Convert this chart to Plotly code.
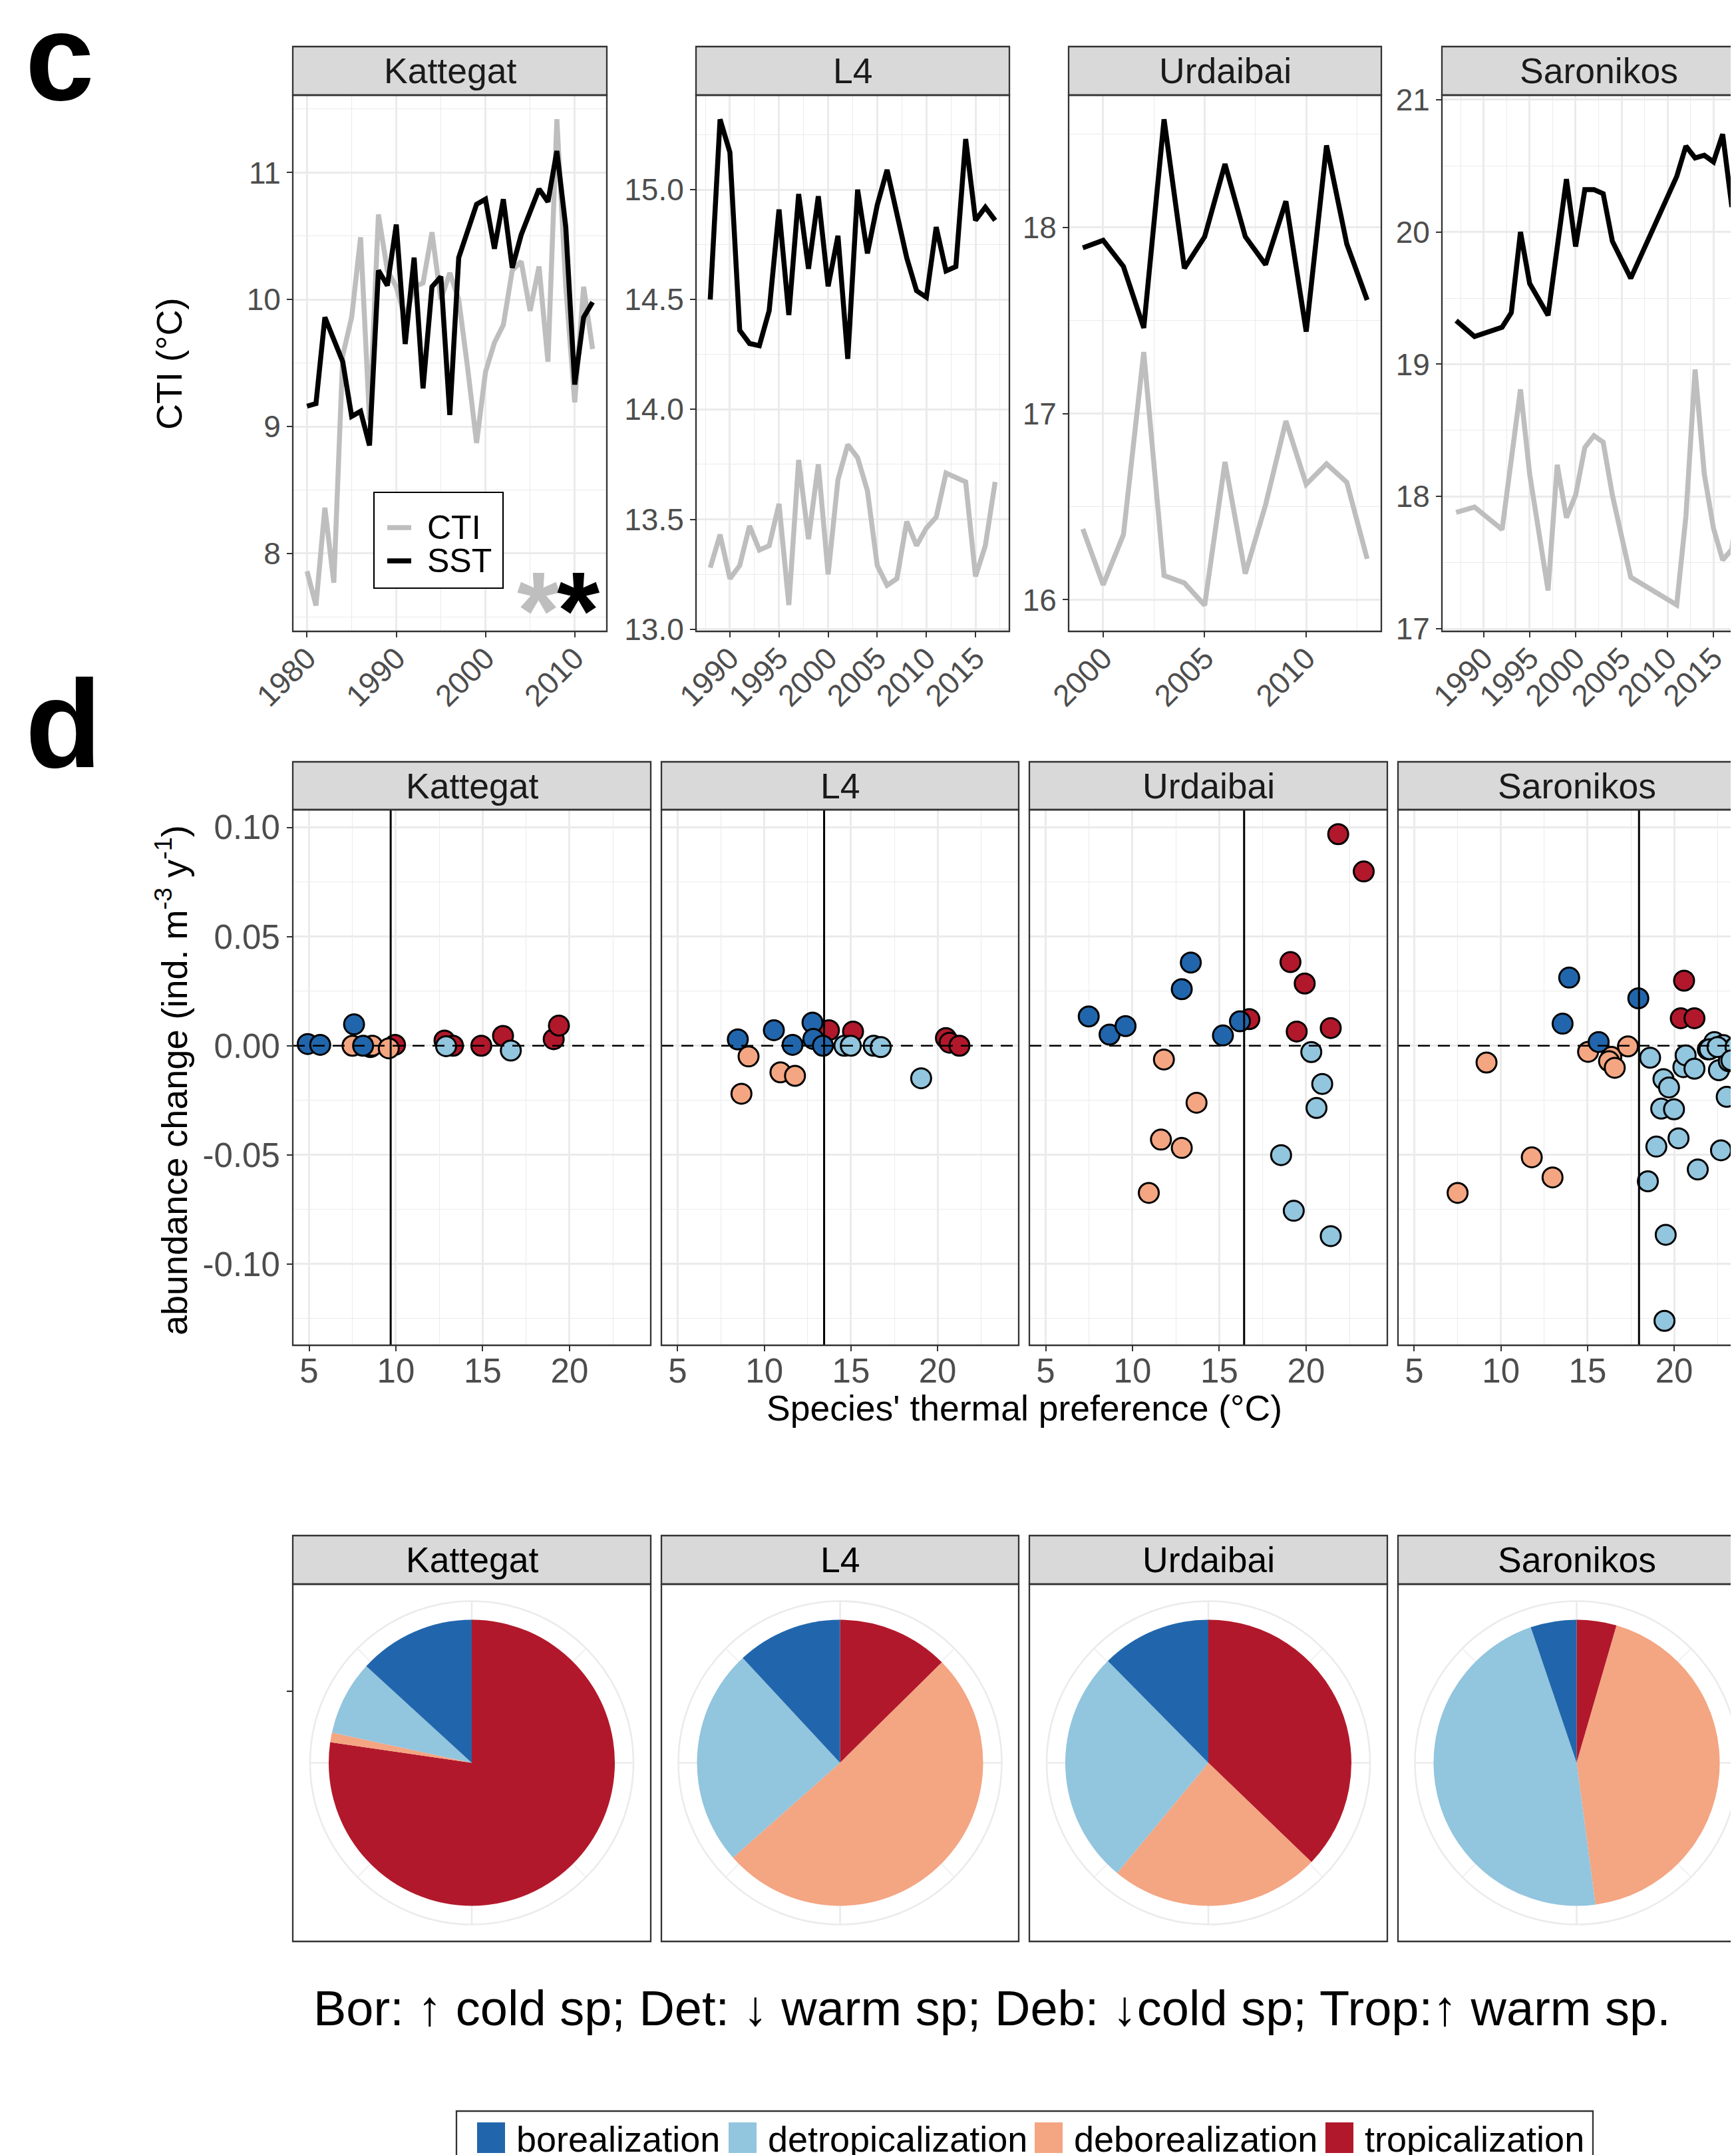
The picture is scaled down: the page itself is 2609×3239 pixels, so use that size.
import math
import plotly.graph_objects as go

W, H = 2609, 3239          # browser window
OFF = 8                     # default page margin of the html body
FW, FH = W - OFF, H - OFF   # figure size so that it fills the window


def px(x):
    return (x - OFF) / FW


def py(y):
    return 1 - (y - OFF) / FH


# ---------------------------------------------------------------- data
BOR, DET, DEB, TRO = "borealization", "detropicalization", "deborealization", "tropicalization"
group_colors = {BOR: "#2166AC", DET: "#92C5DE", DEB: "#F4A582", TRO: "#B2182B"}
legend_groups = [BOR, DET, DEB, TRO]

sites = ["Kattegat", "L4", "Urdaibai", "Saronikos"]

# panel c : CTI and SST time series
kat_years = list(range(1980, 2013))
kat_sst = [9.16, 9.18, 9.86, 9.68, 9.51, 9.08, 9.12, 8.85, 10.23, 10.11, 10.59, 9.65, 10.33, 9.30,
           10.10, 10.18, 9.09, 10.33, 10.53, 10.75, 10.79, 10.40, 10.79, 10.25, 10.51, 10.68, 10.87,
           10.77, 11.17, 10.57, 9.33, 9.86, 9.98]
kat_cti = [7.86, 7.59, 8.36, 7.77, 9.56, 9.86, 10.49, 9.05, 10.67, 10.23, 10.10, 9.85, 10.10, 10.13,
           10.53, 10.00, 10.21, 10.00, 9.46, 8.87, 9.43, 9.66, 9.80, 10.23, 10.30, 9.91, 10.26,
           9.51, 11.42, 10.10, 9.19, 10.10, 9.61]

l4_years = list(range(1988, 2018))
l4_sst = [14.50, 15.32, 15.17, 14.36, 14.30, 14.29, 14.45, 14.91, 14.43, 14.98, 14.64, 14.97, 14.56,
          14.79, 14.23, 15.00, 14.71, 14.93, 15.09, 14.90, 14.69, 14.54, 14.51, 14.83, 14.63, 14.65,
          15.23, 14.86, 14.92, 14.86]
l4_cti = [13.28, 13.43, 13.23, 13.29, 13.47, 13.36, 13.38, 13.57, 13.11, 13.77, 13.41, 13.75, 13.25,
          13.68, 13.84, 13.78, 13.63, 13.29, 13.20, 13.23, 13.49, 13.38, 13.46, 13.51, 13.71, 13.69,
          13.67, 13.24, 13.38, 13.67]

urd_years = list(range(1999, 2014))
urd_sst = [17.89, 17.93, 17.79, 17.46, 18.58, 17.78, 17.95, 18.34, 17.95, 17.80, 18.14, 17.44, 18.44,
           17.91, 17.61]
urd_cti = [16.38, 16.08, 16.35, 17.33, 16.13, 16.09, 15.97, 16.74, 16.14, 16.51, 16.96, 16.62, 16.73,
           16.63, 16.22]

sar_years = [1987, 1989, 1992, 1993, 1994, 1995, 1997, 1998, 1999, 2000, 2001, 2002, 2003, 2004, 2006,
             2011, 2012, 2013, 2014, 2015, 2016, 2017, 2018]
sar_sst = [19.33, 19.21, 19.28, 19.39, 20.00, 19.61, 19.37, 19.88, 20.40, 19.89, 20.32, 20.32, 20.29,
           19.93, 19.65, 20.42, 20.65, 20.56, 20.58, 20.53, 20.74, 20.19, 20.85]
sar_cti = [17.88, 17.92, 17.75, 18.28, 18.81, 18.17, 17.29, 18.24, 17.84, 18.01, 18.37, 18.46, 18.41,
           18.01, 17.39, 17.18, 17.85, 18.96, 18.17, 17.76, 17.52, 17.60, 18.20]

ts_years = [kat_years, l4_years, urd_years, sar_years]
ts_sst = [kat_sst, l4_sst, urd_sst, sar_sst]
ts_cti = [kat_cti, l4_cti, urd_cti, sar_cti]

# panel d : abundance change vs thermal preference
kat_pref = [4.92, 5.64, 7.59, 7.50, 8.53, 8.64, 8.11, 9.95, 9.59, 12.80, 13.29, 12.89, 14.92, 16.17,
            16.62, 19.09, 19.39]
kat_change = [0.0008, 0.0004, 0.0098, 0.0, -0.0006, 0.0, 0.0, 0.0004, -0.0012, 0.0024, 0.0, -0.0002,
              0.0, 0.0045, -0.0022, 0.0030, 0.0092]
kat_group = [BOR, BOR, BOR, DEB, DEB, DEB, BOR, TRO, DEB, TRO, TRO, DET, TRO, TRO, DET, TRO, TRO]

l4_pref = [8.47, 9.09, 8.68, 10.55, 10.93, 11.77, 11.63, 13.73, 12.78, 12.83, 13.38, 15.12, 14.62,
           14.99, 16.31, 16.72, 19.05, 20.48, 20.69, 21.26]
l4_change = [0.0029, -0.0049, -0.0220, 0.0071, -0.0122, -0.0138, 0.0004, 0.0071, 0.0106, 0.0031, 0.0,
             0.0065, 0.0, 0.0, 0.0, -0.0006, -0.0149, 0.0035, 0.0014, 0.0]
l4_group = [BOR, DEB, DEB, BOR, DEB, DEB, BOR, TRO, BOR, BOR, BOR, TRO, DET, DET, DET, DET, DET, TRO,
            TRO, TRO]

urd_pref = [7.48, 8.68, 9.60, 12.84, 13.36, 15.21, 16.73, 16.19, 11.81, 13.69, 11.64, 12.84, 10.94,
            19.10, 19.92, 19.46, 21.42, 21.85, 23.32, 20.30, 20.93, 20.60, 18.56, 19.29, 21.42]
urd_change = [0.0134, 0.0051, 0.0090, 0.0259, 0.0381, 0.0047, 0.0122, 0.0112, -0.0063, -0.0261,
              -0.0430, -0.0468, -0.0674, 0.0383, 0.0285, 0.0065, 0.0081, 0.0969, 0.0798, -0.0029,
              -0.0175, -0.0285, -0.0501, -0.0756, -0.0872]
urd_group = [BOR, BOR, BOR, BOR, BOR, BOR, TRO, BOR, DEB, DEB, DEB, DEB, DEB, TRO, TRO, TRO, TRO, TRO,
             TRO, DET, DET, DET, DET, DET, DET]

sar_pref = [7.50, 9.17, 11.78, 12.98, 15.03, 16.37, 16.24, 16.57, 17.33, 13.94, 13.56, 15.64, 17.93,
            20.57, 20.38, 21.17, 18.61, 19.38, 19.70, 19.25, 19.99, 18.97, 20.25, 18.48, 21.36, 22.70,
            19.51, 19.44, 20.53, 20.66, 21.17, 21.94, 22.32, 22.83, 22.58, 23.03, 23.15, 23.47, 22.04,
            22.50, 23.54, 23.30]
sar_change = [-0.0674, -0.0077, -0.0511, -0.0603, -0.0028, -0.0051, -0.0071, -0.0101, -0.0003, 0.0312,
              0.0101, 0.0017, 0.0217, 0.0298, 0.0126, 0.0126, -0.0055, -0.0153, -0.0191, -0.0288,
              -0.0291, -0.0462, -0.0424, -0.0621, -0.0567, -0.0479, -0.0866, -0.1260, -0.0098, -0.0044,
              -0.0105, -0.0017, 0.0017, 0.0003, -0.0112, -0.0234, -0.0071, -0.0010, -0.0016, -0.0006,
              -0.0006, -0.0067]
sar_group = [DEB] * 9 + [BOR] * 4 + [TRO] * 3 + [DET] * 26

sc_pref = [kat_pref, l4_pref, urd_pref, sar_pref]
sc_change = [kat_change, l4_change, urd_change, sar_change]
sc_group = [kat_group, l4_group, urd_group, sar_group]
mean_temp = [9.70, 13.45, 16.43, 17.97]

# pies (clockwise from 12 o'clock)
pie_groups = [TRO, DEB, DET, BOR]
pie_share = [
    [0.773, 0.011, 0.084, 0.132],
    [0.126, 0.508, 0.246, 0.119],
    [0.372, 0.238, 0.266, 0.124],
    [0.045, 0.434, 0.469, 0.052],
]

# axis ticks
top_xticks = [[1980, 1990, 2000, 2010], [1990, 1995, 2000, 2005, 2010, 2015], [2000, 2005, 2010],
              [1990, 1995, 2000, 2005, 2010, 2015]]
top_xminor = [[1985, 1995, 2005], [1987.5, 1992.5, 1997.5, 2002.5, 2007.5, 2012.5, 2017.5],
              [2002.5, 2007.5, 2012.5], [1987.5, 1992.5, 1997.5, 2002.5, 2007.5, 2012.5, 2017.5]]
top_yticks = [[8, 9, 10, 11], [13.0, 13.5, 14.0, 14.5, 15.0], [16, 17, 18], [17, 18, 19, 20, 21]]
top_ytext = [["8", "9", "10", "11"], ["13.0", "13.5", "14.0", "14.5", "15.0"], ["16", "17", "18"],
             ["17", "18", "19", "20", "21"]]
top_yminor = [[7.5, 8.5, 9.5, 10.5, 11.5], [13.25, 13.75, 14.25, 14.75, 15.25], [16.5, 17.5, 18.5],
              [17.5, 18.5, 19.5, 20.5]]
top_xrange = [[1978.4, 2013.6], [1986.55, 2018.45], [1998.3, 2013.7], [1985.45, 2019.55]]
top_yrange = [[7.386, 11.61], [12.99, 15.43], [15.83, 18.71], [16.98, 21.035]]

sc_xticks = [5, 10, 15, 20]
sc_xminor = [7.5, 12.5, 17.5, 22.5]
sc_yticks = [-0.10, -0.05, 0.0, 0.05, 0.10]
sc_ytext = ["-0.10", "-0.05", "0.00", "0.05", "0.10"]
sc_yminor = [-0.125, -0.075, -0.025, 0.025, 0.075]
sc_xrange = [4.06, 24.68]
sc_yrange = [-0.1372, 0.1081]

# ---------------------------------------------------------------- geometry (page pixels)
TOP_X = [(440, 912), (1046, 1517), (1606, 2076), (2167, 2638)]
TOP_STRIP = (70, 143)
TOP_PLOT = (143, 949)
MID_X = [(440, 978), (994, 1531), (1547, 2085), (2101, 2638)]
MID_STRIP = (1145, 1217)
MID_PLOT = (1217, 2022)
PIE_STRIP = (2308, 2381)
PIE_PLOT = (2381, 2918)

BORDER = "#333333"
GRID = "#EBEBEB"
TICKC = "#4D4D4D"
FONT = "Liberation Sans, Arial, Helvetica, sans-serif"
STRIP_SIZE = 53.5

fig = go.Figure()
shapes = []
annotations = []
layout_axes = {}


def clip_range(rng, x0, x1):
    """visible part of an axis whose panel runs past the right edge of the window"""
    if x1 <= W:
        return rng
    frac = (W - x0) / (x1 - x0)
    return [rng[0], rng[0] + frac * (rng[1] - rng[0])]


def add_strip(x0, x1, y0, y1, label, color="#1A1A1A"):
    shapes.append(dict(type="rect", xref="paper", yref="paper", x0=px(x0), x1=px(x1), y0=py(y1),
                       y1=py(y0), fillcolor="#D9D9D9", line=dict(color=BORDER, width=2.3), layer="above"))
    annotations.append(dict(xref="paper", yref="paper", x=px((x0 + x1) / 2), y=py((y0 + y1) / 2),
                            text=label, showarrow=False, xanchor="center", yanchor="middle",
                            font=dict(size=STRIP_SIZE, color=color)))


def add_border(x0, x1, y0, y1):
    shapes.append(dict(type="rect", xref="paper", yref="paper", x0=px(x0), x1=px(x1), y0=py(y1),
                       y1=py(y0), fillcolor="rgba(0,0,0,0)", line=dict(color=BORDER, width=2.3),
                       layer="above"))


# ---------------------------------------------------------------- row c
for i in range(4):
    n = i + 1
    ax = "" if n == 1 else str(n)
    x0, x1 = TOP_X[i]
    xr = clip_range(top_xrange[i], x0, x1)
    layout_axes["xaxis" + ax] = dict(
        domain=[px(x0), min(px(x1), 1.0)], range=xr, anchor="y" + ax,
        tickmode="array", tickvals=top_xticks[i], ticktext=[str(v) for v in top_xticks[i]],
        tickangle=-45, ticks="outside", ticklen=8, tickwidth=2.2, tickcolor=BORDER,
        ticklabelstandoff=-14,
        tickfont=dict(size=46, color=TICKC), showline=False, zeroline=False,
        showgrid=True, gridcolor=GRID, gridwidth=2.6,
        minor=dict(tickmode="array", tickvals=top_xminor[i], showgrid=True, gridcolor=GRID,
                   gridwidth=1.3),
        automargin=False, fixedrange=True)
    layout_axes["yaxis" + ax] = dict(
        domain=[py(TOP_PLOT[1]), py(TOP_PLOT[0])], range=top_yrange[i], anchor="x" + ax,
        tickmode="array", tickvals=top_yticks[i], ticktext=top_ytext[i],
        ticks="outside", ticklen=8, tickwidth=2.2, tickcolor=BORDER,
        tickfont=dict(size=46, color=TICKC), showline=False, zeroline=False,
        showgrid=True, gridcolor=GRID, gridwidth=2.6,
        minor=dict(tickmode="array", tickvals=top_yminor[i], showgrid=True, gridcolor=GRID,
                   gridwidth=1.3),
        automargin=False, fixedrange=True)
    fig.add_trace(go.Scatter(x=ts_years[i], y=ts_cti[i], mode="lines", xaxis="x" + ax, yaxis="y" + ax,
                             line=dict(color="#BEBEBE", width=7.5), showlegend=False, hoverinfo="skip"))
    fig.add_trace(go.Scatter(x=ts_years[i], y=ts_sst[i], mode="lines", xaxis="x" + ax, yaxis="y" + ax,
                             line=dict(color="#000000", width=7.5), showlegend=False, hoverinfo="skip"))
    add_strip(x0, x1, TOP_STRIP[0], TOP_STRIP[1], sites[i])
    add_border(x0, x1, TOP_PLOT[0], TOP_PLOT[1])

# legend inside Kattegat panel
shapes.append(dict(type="rect", xref="paper", yref="paper", x0=px(562), x1=px(756), y0=py(884),
                   y1=py(740), fillcolor="white", line=dict(color="#000000", width=2.2), layer="above"))
for yy, col, lab in [(793, "#BEBEBE", "CTI"), (843, "#000000", "SST")]:
    shapes.append(dict(type="line", xref="paper", yref="paper", x0=px(582), x1=px(618), y0=py(yy),
                       y1=py(yy), line=dict(color=col, width=7.5), layer="above"))
    annotations.append(dict(xref="paper", yref="paper", x=px(640), y=py(yy), text=lab, showarrow=False,
                            xanchor="left", yanchor="middle", font=dict(size=50, color="#000000")))
annotations.append(dict(xref="paper", yref="paper", x=px(809), y=py(918), text="<b>*</b>", showarrow=False,
                        xanchor="center", yanchor="middle", font=dict(size=165, color="#BEBEBE")))
annotations.append(dict(xref="paper", yref="paper", x=px(869), y=py(918), text="<b>*</b>", showarrow=False,
                        xanchor="center", yanchor="middle", font=dict(size=165, color="#000000")))

annotations.append(dict(xref="paper", yref="paper", x=px(254), y=py(547), text="CTI (°C)", showarrow=False,
                        textangle=-90, xanchor="center", yanchor="middle", font=dict(size=54, color="#000000")))

# ---------------------------------------------------------------- row d
for i in range(4):
    n = i + 5
    ax = str(n)
    x0, x1 = MID_X[i]
    xr = clip_range(sc_xrange, x0, x1)
    layout_axes["xaxis" + ax] = dict(
        domain=[px(x0), min(px(x1), 1.0)], range=xr, anchor="y" + ax,
        tickmode="array", tickvals=sc_xticks, ticktext=[str(v) for v in sc_xticks],
        ticks="outside", ticklen=8, tickwidth=2.2, tickcolor=BORDER, ticklabelstandoff=-14,
        tickfont=dict(size=51, color=TICKC), showline=False, zeroline=False,
        showgrid=True, gridcolor=GRID, gridwidth=2.6,
        minor=dict(tickmode="array", tickvals=sc_xminor, showgrid=True, gridcolor=GRID, gridwidth=1.3),
        automargin=False, fixedrange=True)
    layout_axes["yaxis" + ax] = dict(
        domain=[py(MID_PLOT[1]), py(MID_PLOT[0])], range=sc_yrange, anchor="x" + ax,
        tickmode="array", tickvals=sc_yticks, ticktext=sc_ytext,
        ticks="outside" if i == 0 else "", showticklabels=(i == 0), ticklen=8, tickwidth=2.2,
        tickcolor=BORDER, tickfont=dict(size=51, color=TICKC), showline=False, zeroline=False,
        showgrid=True, gridcolor=GRID, gridwidth=2.6,
        minor=dict(tickmode="array", tickvals=sc_yminor, showgrid=True, gridcolor=GRID, gridwidth=1.3),
        automargin=False, fixedrange=True)
    fig.add_trace(go.Scatter(
        x=sc_pref[i], y=sc_change[i], mode="markers", xaxis="x" + ax, yaxis="y" + ax,
        marker=dict(size=30, color=[group_colors[g] for g in sc_group[i]],
                    line=dict(color="#000000", width=3)),
        showlegend=False, hoverinfo="skip"))
    shapes.append(dict(type="line", xref="x" + ax, yref="y" + ax + " domain", x0=mean_temp[i],
                       x1=mean_temp[i], y0=0, y1=1, line=dict(color="#000000", width=3), layer="above"))
    shapes.append(dict(type="line", xref="x" + ax + " domain", yref="y" + ax, x0=0, x1=1, y0=0, y1=0,
                       line=dict(color="#000000", width=2.5, dash="18px,12px"), layer="above"))
    add_strip(x0, x1, MID_STRIP[0], MID_STRIP[1], sites[i])
    add_border(x0, x1, MID_PLOT[0], MID_PLOT[1])

annotations.append(dict(xref="paper", yref="paper", x=px(258), y=py(1624),
                        text="abundance change (ind. m<sup>-3</sup> y<sup>-1</sup>)", showarrow=False,
                        textangle=-90, xanchor="center", yanchor="middle", font=dict(size=54, color="#000000")))
annotations.append(dict(xref="paper", yref="paper", x=px(1539), y=py(2116),
                        text="Species' thermal preference (°C)", showarrow=False,
                        xanchor="center", yanchor="middle", font=dict(size=53.5, color="#000000")))

# ---------------------------------------------------------------- pies
PIE_R = 215
RING_R = 243

for i in range(4):
    x0, x1 = MID_X[i]
    cx = (x0 + x1) / 2
    cy = (PIE_PLOT[0] + PIE_PLOT[1]) / 2
    shapes.append(dict(type="circle", xref="paper", yref="paper", x0=px(cx - RING_R), x1=px(cx + RING_R),
                       y0=py(cy + RING_R), y1=py(cy - RING_R), line=dict(color=GRID, width=2.6),
                       layer="below"))
    for k in range(8):
        a = math.radians(45 * k)
        shapes.append(dict(type="line", xref="paper", yref="paper", x0=px(cx), y0=py(cy),
                           x1=px(cx + RING_R * math.sin(a)), y1=py(cy - RING_R * math.cos(a)),
                           line=dict(color=GRID, width=2.6 if k % 2 == 0 else 1.3), layer="below"))
    fig.add_trace(go.Pie(
        values=pie_share[i], labels=pie_groups, sort=False, direction="clockwise", rotation=0,
        marker=dict(colors=[group_colors[g] for g in pie_groups], line=dict(width=0)),
        textinfo="none", hoverinfo="skip", showlegend=False,
        domain=dict(x=[px(cx - PIE_R), px(cx + PIE_R)], y=[py(cy + PIE_R), py(cy - PIE_R)])))
    add_strip(x0, x1, PIE_STRIP[0], PIE_STRIP[1], sites[i], color="#000000")
    add_border(x0, x1, PIE_PLOT[0], PIE_PLOT[1])

# small axis tick left of the first pie panel
shapes.append(dict(type="line", xref="paper", yref="paper", x0=px(431), x1=px(440), y0=py(2542),
                   y1=py(2542), line=dict(color=BORDER, width=2.2)))

annotations.append(dict(xref="paper", yref="paper", x=px(1491), y=py(3018),
                        text="Bor: ↑ cold sp; Det: ↓ warm sp; Deb: ↓cold sp; Trop:↑ warm sp.",
                        showarrow=False, xanchor="center", yanchor="middle",
                        font=dict(size=74, color="#000000")))

# ---------------------------------------------------------------- bottom legend (fill)
shapes.append(dict(type="rect", xref="paper", yref="paper", x0=px(686), x1=px(2394), y0=py(3270),
                   y1=py(3173), fillcolor="white", line=dict(color=BORDER, width=2.3)))
key_x = [717, 1095, 1555, 1992]
for g, kx in zip(legend_groups, key_x):
    shapes.append(dict(type="rect", xref="paper", yref="paper", x0=px(kx), x1=px(kx + 42), y0=py(3236),
                       y1=py(3190), fillcolor=group_colors[g], line=dict(width=0)))
    annotations.append(dict(xref="paper", yref="paper", x=px(kx + 57), y=py(3215), text=g,
                            showarrow=False, xanchor="left", yanchor="middle",
                            font=dict(size=54, color="#000000")))

# panel letters
annotations.append(dict(xref="paper", yref="paper", x=px(36), y=py(85), text="<b>c</b>", showarrow=False,
                        xanchor="left", yanchor="middle", font=dict(size=186, color="#000000")))
annotations.append(dict(xref="paper", yref="paper", x=px(36), y=py(1088), text="<b>d</b>", showarrow=False,
                        xanchor="left", yanchor="middle", font=dict(size=188, color="#000000")))

fig.update_layout(
    width=FW, height=FH, margin=dict(l=0, r=0, t=0, b=0),
    paper_bgcolor="white", plot_bgcolor="white",
    font=dict(family=FONT, color="#000000"),
    showlegend=False, shapes=shapes, annotations=annotations,
    **layout_axes)

fig.write_html("out.html")
